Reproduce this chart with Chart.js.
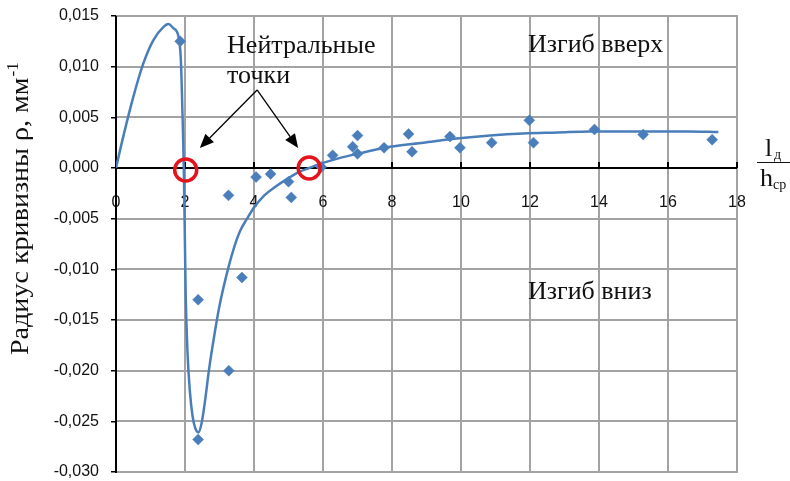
<!DOCTYPE html>
<html>
<head>
<meta charset="utf-8">
<script src="https://cdn.jsdelivr.net/npm/chart.js@4/dist/chart.umd.min.js"></script>
<style>
  html, body { margin: 0; padding: 0; background: #ffffff; }
  #wrap { width: 790px; height: 481px; }
</style>
</head>
<body>
<div id="wrap"><canvas id="c" width="790" height="481"></canvas></div>
<script>
// Measured curvature vs. relative length l_д / h_ср
const obsX = [1.86, 2.38, 2.38, 3.26, 3.27, 3.65, 4.06, 4.48, 5.0, 5.08, 5.95, 6.28, 6.86, 7.0, 7.0, 7.77,
              8.48, 8.58, 9.68, 9.97, 10.89, 11.98, 12.1, 13.87, 15.28, 17.28];
const obsY = [0.0125, -0.0130, -0.0268, -0.0027, -0.0200, -0.0108, -0.0009, -0.0006, -0.00135, -0.0029, 0.0001, 0.00125,
              0.0021, 0.0032, 0.0014, 0.0020, 0.00335, 0.0016, 0.0031, 0.0020, 0.0025, 0.0047, 0.0025, 0.0038, 0.0033, 0.0028];

// Approximating curve
const fitX = [0, 0.21, 0.5, 0.79, 1.08, 1.37, 1.52, 1.66, 1.81, 1.88, 1.91, 1.94, 1.965, 1.99, 2.02, 2.07, 2.14,
              2.22, 2.3, 2.39, 2.48, 2.58, 2.7, 2.85, 3.0, 3.2, 3.4, 3.6, 3.8, 4.0, 4.3, 4.6, 4.95, 5.3, 5.6,
              6.0, 6.5, 7.07, 7.94, 8.91, 9.87, 10.84, 11.8, 12.8, 13.74, 14.7, 15.67, 16.6, 17.46];
const fitY = [0, 0.0031, 0.0070, 0.0103, 0.0126, 0.0139, 0.0142, 0.0138, 0.0130, 0.0107, 0.0075, 0.0037, 0.0,
              -0.0055, -0.0125, -0.0180, -0.0220, -0.0245, -0.0257, -0.0261, -0.0252, -0.0230, -0.0198, -0.0165,
              -0.0136, -0.0106, -0.0081, -0.0062, -0.0050, -0.0039, -0.0027, -0.0019, -0.0011, -0.0004, 0.0,
              0.0005, 0.0010, 0.00145, 0.0021, 0.0025, 0.0029, 0.0032, 0.0034, 0.0035, 0.0036, 0.0036, 0.0036,
              0.0036, 0.00355];

// Neutral points (sign change of curvature)
const neutralX = [2.02, 5.6];
const neutralY = [-0.0002, 0];

// Axis ticks
const xTicks = [0, 2, 4, 6, 8, 10, 12, 14, 16, 18];
const yTicks = [-0.030, -0.025, -0.020, -0.015, -0.010, -0.005, 0.000, 0.005, 0.010, 0.015];

const BLUE = '#4a7ebb';
const RED = '#e3141d';
const GRID = '#a3a3a3';
const SERIF = '"Liberation Serif", "Times New Roman", serif';
const SANS = '"Liberation Sans", Arial, sans-serif';

const pairs = (xs, ys) => xs.map((x, i) => ({ x, y: ys[i] }));
const fmtY = v => (Math.abs(v) < 1e-12 ? 0 : v).toFixed(3).replace('.', ',');

function arrow(ctx, x0, y0, x1, y1) {
  const ang = Math.atan2(y1 - y0, x1 - x0);
  const len = 14, half = 6;
  const bx = x1 - len * Math.cos(ang), by = y1 - len * Math.sin(ang);
  ctx.beginPath();
  ctx.moveTo(x0, y0);
  ctx.lineTo(bx, by);
  ctx.stroke();
  ctx.beginPath();
  ctx.moveTo(x1, y1);
  ctx.lineTo(bx + half * Math.sin(ang), by - half * Math.cos(ang));
  ctx.lineTo(bx - half * Math.sin(ang), by + half * Math.cos(ang));
  ctx.closePath();
  ctx.fill();
}

// Grid as 2 px bands, painted first so tick labels sit on top of them
const gridLines = {
  id: 'gridLines',
  beforeDraw(chart) {
    const { ctx, scales: { x, y }, chartArea } = chart;
    const left = Math.round(chartArea.left), right = Math.round(chartArea.right);
    const top = Math.round(chartArea.top), bottom = Math.round(chartArea.bottom);
    ctx.save();
    ctx.fillStyle = GRID;
    yTicks.forEach(t => {
      const py = Math.round(y.getPixelForValue(t));
      ctx.fillRect(left, py - 1, right - left + 1, 2);
    });
    xTicks.forEach(t => {
      const px = Math.round(x.getPixelForValue(t));
      ctx.fillRect(px - 1, top - 1, 2, bottom - top + 2);
    });
    ctx.restore();
  }
};

// Black axis lines through the origin, under the data
const axesLines = {
  id: 'axesLines',
  beforeDatasetsDraw(chart) {
    const { ctx, scales: { x, y }, chartArea } = chart;
    const y0 = Math.round(y.getPixelForValue(0));
    const x0 = Math.round(x.getPixelForValue(0));
    ctx.save();
    ctx.fillStyle = '#000';
    ctx.fillRect(chartArea.left, y0 - 1, chartArea.right - chartArea.left, 2);
    ctx.fillRect(x0 - 1, chartArea.top, 2, chartArea.bottom - chartArea.top + 1);
    // tick marks on the horizontal axis, pointing into the plot
    xTicks.forEach(t => {
      const px = Math.round(x.getPixelForValue(t));
      ctx.fillRect(px - 1, y0 - 6, 2, 6);
    });
    ctx.restore();
  }
};

const decorations = {
  id: 'decorations',
  afterDraw(chart) {
    const { ctx, scales: { x, y }, chartArea } = chart;
    const y0 = y.getPixelForValue(0);
    ctx.save();

    // annotation texts
    ctx.fillStyle = '#111';
    ctx.font = '26px ' + SERIF;
    ctx.textAlign = 'left';
    ctx.textBaseline = 'alphabetic';
    ctx.fillText('Нейтральные', x.getPixelForValue(3.22), y.getPixelForValue(0.01135));
    ctx.fillText('точки', x.getPixelForValue(3.22), y.getPixelForValue(0.00839));
    ctx.fillText('Изгиб вверх', x.getPixelForValue(11.94), y.getPixelForValue(0.01145));
    ctx.fillText('Изгиб вниз', x.getPixelForValue(11.94), y.getPixelForValue(-0.01293));

    // arrows towards the neutral points
    ctx.strokeStyle = '#000';
    ctx.fillStyle = '#000';
    ctx.lineWidth = 1.3;
    const sx = x.getPixelForValue(4.09), sy = y.getPixelForValue(0.0077);
    arrow(ctx, sx, sy, x.getPixelForValue(2.43), y.getPixelForValue(0.00197));
    arrow(ctx, sx, sy, x.getPixelForValue(5.28), y.getPixelForValue(0.00197));

    // horizontal axis title: l_д / h_ср
    const fx = chartArea.right + 22;
    ctx.fillStyle = '#111';
    ctx.font = '26px ' + SERIF;
    ctx.fillText('l', fx + 6, y0 - 12);
    ctx.font = '14px ' + SERIF;
    ctx.fillText('д', fx + 15, y0 - 9);
    ctx.fillRect(fx - 2, y0 - 6, 38, 1);
    ctx.font = '26px ' + SERIF;
    ctx.fillText('h', fx + 1, y0 + 18);
    ctx.font = '14px ' + SERIF;
    ctx.fillText('ср', fx + 14, y0 + 21);

    // vertical axis title
    ctx.translate(28, 355);
    ctx.rotate(-Math.PI / 2);
    ctx.scale(1.08, 1);
    ctx.font = '26px ' + SERIF;
    const main = 'Радиус кривизны ρ, мм';
    ctx.fillText(main, 0, 0);
    const w = ctx.measureText(main).width;
    ctx.font = '16px ' + SERIF;
    ctx.fillText('-1', w + 1, -10);

    ctx.restore();
  }
};

new Chart(document.getElementById('c'), {
  type: 'scatter',
  data: {
    datasets: [
      {
        label: 'neutral',
        data: pairs(neutralX, neutralY),
        showLine: false,
        pointStyle: 'circle',
        pointRadius: 11,
        pointBorderWidth: 3.5,
        pointBorderColor: RED,
        pointBackgroundColor: 'rgba(0,0,0,0)',
        order: 0
      },
      {
        label: 'measured',
        data: pairs(obsX, obsY),
        showLine: false,
        pointStyle: 'rectRot',
        pointRadius: 5.5,
        pointBorderWidth: 0.5,
        pointBorderColor: BLUE,
        pointBackgroundColor: BLUE,
        order: 1
      },
      {
        label: 'curve',
        data: pairs(fitX, fitY),
        showLine: true,
        fill: false,
        borderColor: BLUE,
        backgroundColor: 'rgba(0,0,0,0)',
        borderWidth: 2.5,
        pointRadius: 0,
        cubicInterpolationMode: 'monotone',
        order: 2
      }
    ]
  },
  options: {
    responsive: false,
    devicePixelRatio: 1,
    animation: false,
    events: [],
    layout: { autoPadding: false, padding: { left: 0, right: 53, top: 16, bottom: 9 } },
    plugins: { legend: { display: false }, tooltip: { enabled: false } },
    scales: {
      x: {
        type: 'linear',
        position: { y: 0 },
        min: 0,
        max: 18,
        afterBuildTicks: s => { s.ticks = xTicks.map(v => ({ value: v })); },
        afterFit: s => { s.paddingLeft = 0; s.paddingRight = 0; s.paddingTop = 0; s.paddingBottom = 0; },
        ticks: {
          color: '#111',
          font: { family: SANS, size: 16 },
          padding: 17,
          maxRotation: 0
        },
        grid: { display: false },
        border: { display: false }
      },
      y: {
        type: 'linear',
        min: -0.03,
        max: 0.015,
        afterBuildTicks: s => { s.ticks = yTicks.map(v => ({ value: v })); },
        afterFit: s => { s.width = 116; s.paddingTop = 0; s.paddingBottom = 0; },
        ticks: {
          color: '#111',
          font: { family: SANS, size: 16 },
          padding: 12,
          callback: v => fmtY(v)
        },
        grid: {
          display: true,
          drawOnChartArea: false,
          color: GRID,
          lineWidth: 1.5,
          tickColor: '#000',
          tickLength: 5
        },
        border: { display: false }
      }
    }
  },
  plugins: [gridLines, axesLines, decorations]
});
</script>
</body>
</html>
